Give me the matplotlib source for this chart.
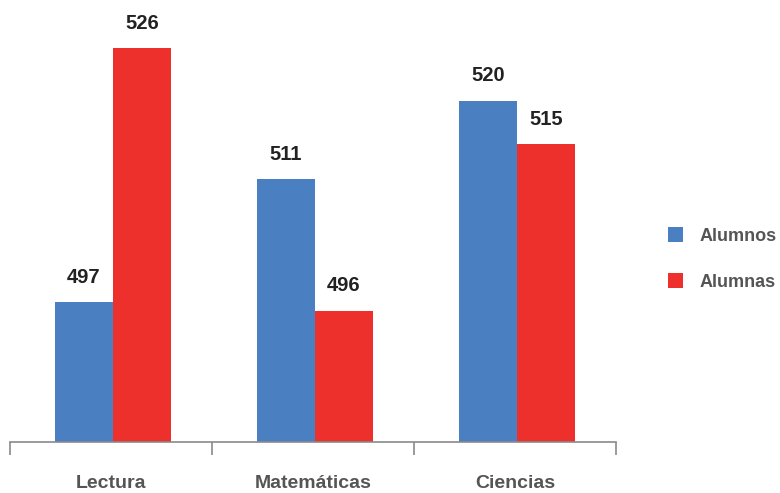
import numpy as np
import matplotlib.pyplot as plt

# datos
materias = ["Lectura", "Matemáticas", "Ciencias"]
alumnos = [497, 511, 520]
alumnas = [526, 496, 515]
series = ["Alumnos", "Alumnas"]

azul = "#4a7fc1"
rojo = "#ee302c"

plt.rcParams['font.family'] = ['Liberation Sans', 'DejaVu Sans']
plt.rcParams['font.weight'] = 'bold'

fig = plt.figure(figsize=(7.8, 4.93), dpi=100)
ax = fig.add_axes([10/780, (493-442)/493, 606/780, 442/493])

x = np.arange(len(materias))
w = 0.287
b1 = ax.bar(x - w/2 + 0.01, alumnos, w, color=azul, label=series[0])
b2 = ax.bar(x + w/2 + 0.01, alumnas, w, color=rojo, label=series[1])

for barras in (b1, b2):
    for r in barras:
        ax.annotate("%d" % r.get_height(), (r.get_x() + r.get_width()/2, r.get_height()),
                    xytext=(0, 11), textcoords="offset points", ha="center", va="bottom",
                    fontsize=14.5, fontweight="bold", color="#222222")

ax.set_ylim(481, 531.5)
ax.set_xlim(-0.5, 2.5)
ax.set_yticks([])
for s in ["left", "right", "top"]:
    ax.spines[s].set_visible(False)
ax.spines["bottom"].set_color("#8a8a8a")
ax.spines["bottom"].set_linewidth(1.2)
ax.set_xticks([-0.5, 0.5, 1.5, 2.5])
ax.set_xticklabels([])
ax.set_xticks(x, minor=True)
ax.set_xticklabels(materias, minor=True)
ax.tick_params(axis="x", which="major", length=9, width=1.2, color="#8a8a8a")
ax.tick_params(axis="x", which="minor", length=0, pad=24, labelsize=14, labelcolor="#555555")

fig.legend(handles=[b1, b2], labels=series, loc="center left", bbox_to_anchor=(668/780, 1 - 259/493),
           frameon=False, fontsize=13, labelcolor="#555555", handlelength=0.85, handleheight=0.85,
           labelspacing=1.6, handletextpad=0.9, borderaxespad=0, borderpad=0)

fig.savefig("out.png", dpi=100)
